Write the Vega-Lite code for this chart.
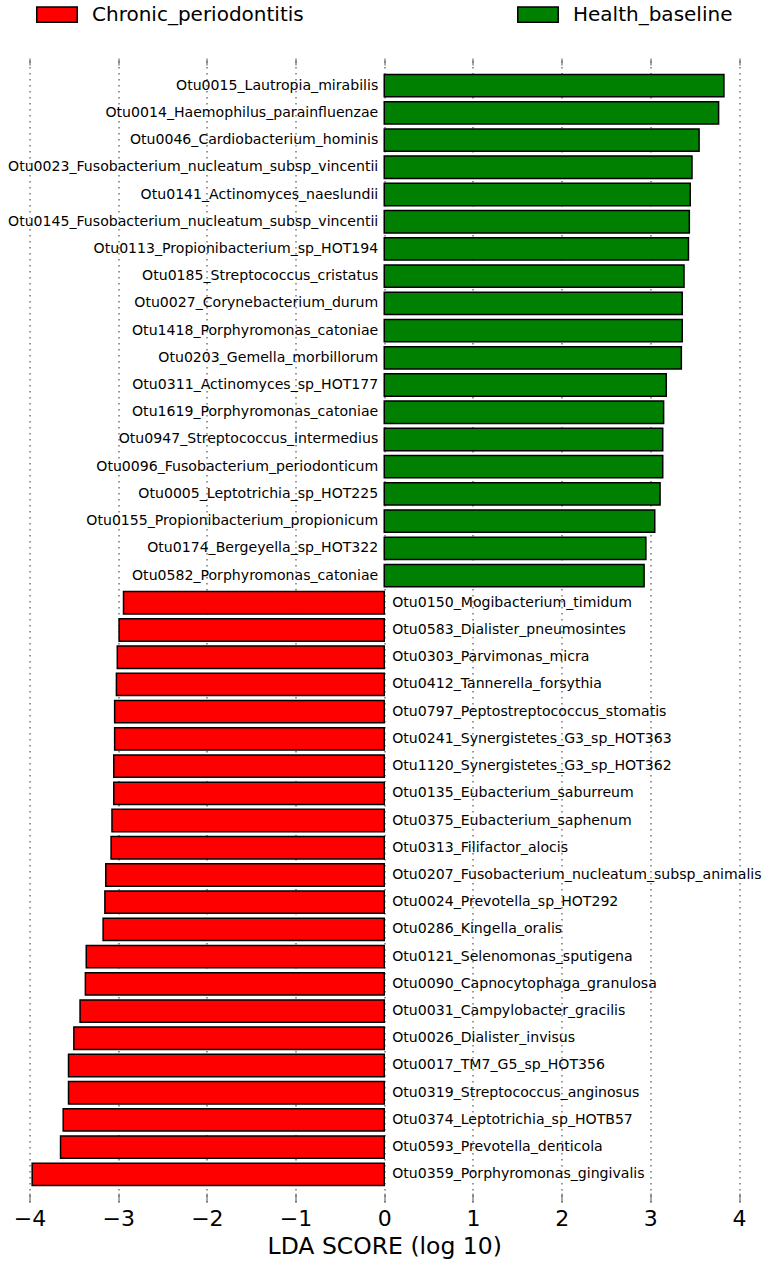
{
  "$schema": "https://vega.github.io/schema/vega-lite/v6.json",
  "autosize": {"type": "none"},
  "padding": {"left": 29.5, "top": 58, "right": 29, "bottom": 63},
  "width": 709.5,
  "height": 1144,
  "background": "white",
  "config": {"view": {"stroke": null}, "font": "DejaVu Sans"},
  "data": {"values": [
    {"otu": "Otu0015_Lautropia_mirabilis", "lda": 3.83, "class": "Health_baseline"},
    {"otu": "Otu0014_Haemophilus_parainfluenzae", "lda": 3.77, "class": "Health_baseline"},
    {"otu": "Otu0046_Cardiobacterium_hominis", "lda": 3.55, "class": "Health_baseline"},
    {"otu": "Otu0023_Fusobacterium_nucleatum_subsp_vincentii", "lda": 3.47, "class": "Health_baseline"},
    {"otu": "Otu0141_Actinomyces_naeslundii", "lda": 3.45, "class": "Health_baseline"},
    {"otu": "Otu0145_Fusobacterium_nucleatum_subsp_vincentii", "lda": 3.44, "class": "Health_baseline"},
    {"otu": "Otu0113_Propionibacterium_sp_HOT194", "lda": 3.43, "class": "Health_baseline"},
    {"otu": "Otu0185_Streptococcus_cristatus", "lda": 3.38, "class": "Health_baseline"},
    {"otu": "Otu0027_Corynebacterium_durum", "lda": 3.36, "class": "Health_baseline"},
    {"otu": "Otu1418_Porphyromonas_catoniae", "lda": 3.36, "class": "Health_baseline"},
    {"otu": "Otu0203_Gemella_morbillorum", "lda": 3.35, "class": "Health_baseline"},
    {"otu": "Otu0311_Actinomyces_sp_HOT177", "lda": 3.18, "class": "Health_baseline"},
    {"otu": "Otu1619_Porphyromonas_catoniae", "lda": 3.15, "class": "Health_baseline"},
    {"otu": "Otu0947_Streptococcus_intermedius", "lda": 3.14, "class": "Health_baseline"},
    {"otu": "Otu0096_Fusobacterium_periodonticum", "lda": 3.14, "class": "Health_baseline"},
    {"otu": "Otu0005_Leptotrichia_sp_HOT225", "lda": 3.11, "class": "Health_baseline"},
    {"otu": "Otu0155_Propionibacterium_propionicum", "lda": 3.05, "class": "Health_baseline"},
    {"otu": "Otu0174_Bergeyella_sp_HOT322", "lda": 2.95, "class": "Health_baseline"},
    {"otu": "Otu0582_Porphyromonas_catoniae", "lda": 2.93, "class": "Health_baseline"},
    {"otu": "Otu0150_Mogibacterium_timidum", "lda": -2.94, "class": "Chronic_periodontitis"},
    {"otu": "Otu0583_Dialister_pneumosintes", "lda": -2.99, "class": "Chronic_periodontitis"},
    {"otu": "Otu0303_Parvimonas_micra", "lda": -3.01, "class": "Chronic_periodontitis"},
    {"otu": "Otu0412_Tannerella_forsythia", "lda": -3.02, "class": "Chronic_periodontitis"},
    {"otu": "Otu0797_Peptostreptococcus_stomatis", "lda": -3.04, "class": "Chronic_periodontitis"},
    {"otu": "Otu0241_Synergistetes_G3_sp_HOT363", "lda": -3.04, "class": "Chronic_periodontitis"},
    {"otu": "Otu1120_Synergistetes_G3_sp_HOT362", "lda": -3.05, "class": "Chronic_periodontitis"},
    {"otu": "Otu0135_Eubacterium_saburreum", "lda": -3.05, "class": "Chronic_periodontitis"},
    {"otu": "Otu0375_Eubacterium_saphenum", "lda": -3.07, "class": "Chronic_periodontitis"},
    {"otu": "Otu0313_Filifactor_alocis", "lda": -3.08, "class": "Chronic_periodontitis"},
    {"otu": "Otu0207_Fusobacterium_nucleatum_subsp_animalis", "lda": -3.14, "class": "Chronic_periodontitis"},
    {"otu": "Otu0024_Prevotella_sp_HOT292", "lda": -3.15, "class": "Chronic_periodontitis"},
    {"otu": "Otu0286_Kingella_oralis", "lda": -3.17, "class": "Chronic_periodontitis"},
    {"otu": "Otu0121_Selenomonas_sputigena", "lda": -3.36, "class": "Chronic_periodontitis"},
    {"otu": "Otu0090_Capnocytophaga_granulosa", "lda": -3.37, "class": "Chronic_periodontitis"},
    {"otu": "Otu0031_Campylobacter_gracilis", "lda": -3.43, "class": "Chronic_periodontitis"},
    {"otu": "Otu0026_Dialister_invisus", "lda": -3.50, "class": "Chronic_periodontitis"},
    {"otu": "Otu0017_TM7_G5_sp_HOT356", "lda": -3.56, "class": "Chronic_periodontitis"},
    {"otu": "Otu0319_Streptococcus_anginosus", "lda": -3.56, "class": "Chronic_periodontitis"},
    {"otu": "Otu0374_Leptotrichia_sp_HOTB57", "lda": -3.62, "class": "Chronic_periodontitis"},
    {"otu": "Otu0593_Prevotella_denticola", "lda": -3.65, "class": "Chronic_periodontitis"},
    {"otu": "Otu0359_Porphyromonas_gingivalis", "lda": -3.97, "class": "Chronic_periodontitis"}
  ]},
  "encoding": {
    "y": {"field": "otu", "type": "nominal", "sort": null, "axis": null,
          "scale": {"paddingInner": 0.18, "paddingOuter": 0.605}}
  },
  "resolve": {"axis": {"x": "independent"}},
  "layer": [
    {
      "mark": {"type": "bar", "stroke": "black", "strokeWidth": 1.5},
      "encoding": {
        "x": {"field": "lda", "type": "quantitative",
              "scale": {"domain": [-4, 4], "nice": false},
              "axis": {"orient": "bottom", "values": [-4, -3, -2, -1, 0, 1, 2, 3, 4],
                       "grid": true, "gridColor": "#333333", "gridDash": [1.5, 4.5], "gridWidth": 1, "gridOpacity": 1,
                       "domain": false, "tickSize": -9, "tickColor": "#555555", "tickWidth": 1,
                       "labelFontSize": 22, "labelColor": "black", "labelPadding": 15, "labelFlush": false,
                       "title": "LDA SCORE (log 10)", "titleFontSize": 23.5, "titleFontWeight": "normal",
                       "titleColor": "black", "titlePadding": 5}},
        "color": {"field": "class", "type": "nominal",
                  "scale": {"domain": ["Chronic_periodontitis", "Health_baseline"], "range": ["#FF0000", "#008000"]},
                  "legend": {"orient": "none", "legendX": 6.5, "legendY": -64.5, "direction": "horizontal",
                             "title": null, "padding": 0,
                             "symbolType": "M-1,-0.375H1V0.375H-1Z", "symbolSize": 1640,
                             "symbolStrokeColor": "black", "symbolStrokeWidth": 1.5, "symbolOpacity": 1,
                             "labelFontSize": 20, "labelColor": "black", "labelOffset": 14, "labelLimit": 400,
                             "columnPadding": 210}}
      }
    },
    {
      "transform": [{"filter": "datum.lda > 0"}],
      "mark": {"type": "text", "align": "right", "baseline": "middle", "dx": -6, "fontSize": 14.1, "color": "black"},
      "encoding": {
        "x": {"datum": 0, "type": "quantitative",
              "axis": {"orient": "top", "values": [-4, -3, -2, -1, 0, 1, 2, 3, 4], "labels": false, "grid": false,
                       "domain": false, "tickSize": -7, "tickColor": "#555555", "title": null}},
        "text": {"field": "otu"}
      }
    },
    {
      "transform": [{"filter": "datum.lda < 0"}],
      "mark": {"type": "text", "align": "left", "baseline": "middle", "dx": 8, "fontSize": 14.1, "color": "black"},
      "encoding": {
        "x": {"datum": 0, "type": "quantitative", "axis": null},
        "text": {"field": "otu"}
      }
    }
  ]
}
